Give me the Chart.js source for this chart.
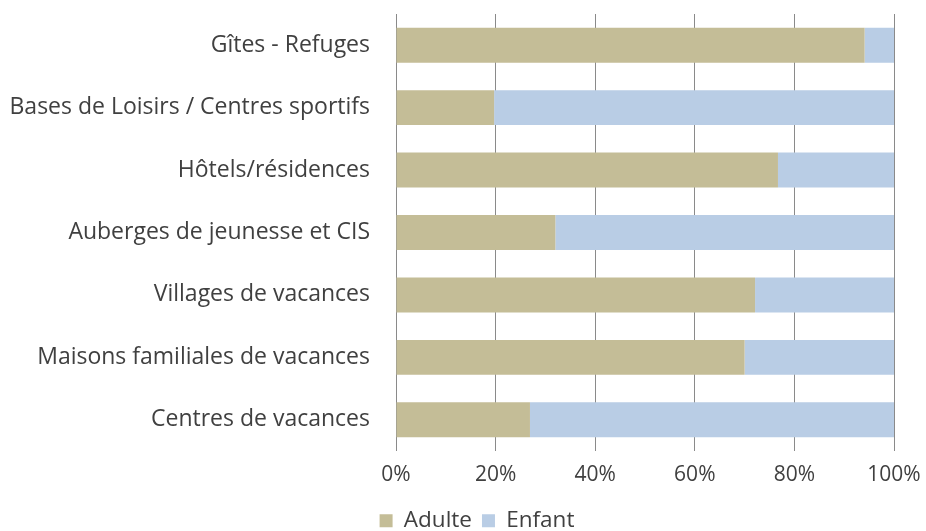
<!DOCTYPE html>
<html>
<head>
<meta charset="utf-8">
<script src="https://cdn.jsdelivr.net/npm/chart.js@4"></script>
<style>
  html, body { margin: 0; padding: 0; background: #fff; }
  #wrap { width: 926px; height: 531px; }
</style>
</head>
<body>
<div id="wrap"><canvas id="typeChart" width="926" height="531"></canvas></div>
<script>
const categories = [
    'Gîtes - Refuges',
    'Bases de Loisirs / Centres sportifs',
    'Hôtels/résidences',
    'Auberges de jeunesse et CIS',
    'Villages de vacances',
    'Maisons familiales de vacances',
    'Centres de vacances'
];
const adulteValues = [94.1, 19.7, 76.7, 32.0, 72.1, 70.0, 26.9];
const enfantValues = [5.9, 80.3, 23.3, 68.0, 27.9, 30.0, 73.1];
const tickValues = [0, 20, 40, 60, 80, 100];

const textColor = '#404040';
const fontFamily = "'Open Sans', 'DejaVu Sans', sans-serif";

// nudge the legend a bit to the right, it sits under the plot in the original
const legendShift = {
    id: 'legendShift',
    afterLayout(chart) {
        chart.legend.left += 30;
        chart.legend.right += 30;
    }
};

function createTypeChart() {
    const ctx = document.getElementById('typeChart');
    if (!ctx) return;

    new Chart(ctx, {
        type: 'bar',
        data: {
            labels: categories,
            datasets: [
                {
                    label: 'Adulte',
                    data: adulteValues,
                    backgroundColor: '#c4bd97',
                    barPercentage: 0.56,
                    categoryPercentage: 1
                },
                {
                    label: 'Enfant',
                    data: enfantValues,
                    backgroundColor: '#b9cde5',
                    barPercentage: 0.56,
                    categoryPercentage: 1
                }
            ]
        },
        plugins: [legendShift],
        options: {
            indexAxis: 'y',
            responsive: false,
            animation: false,
            layout: { padding: { top: 14, right: 32, bottom: -11, left: 0 } },
            plugins: {
                legend: {
                    position: 'bottom',
                    labels: {
                        color: textColor,
                        font: { family: fontFamily, size: 22.5 },
                        boxWidth: 13,
                        boxHeight: 13,
                        padding: 10
                    }
                },
                tooltip: { enabled: false }
            },
            scales: {
                x: {
                    stacked: true,
                    min: 0,
                    max: 100,
                    afterBuildTicks: (axis) => {
                        axis.ticks = tickValues.map(v => ({ value: v }));
                    },
                    afterFit: (axis) => {
                        axis.height = 48.5;
                        axis.paddingLeft = 0;
                        axis.paddingRight = 0;
                    },
                    grid: { color: '#8a8a8a', drawTicks: false },
                    border: { display: false },
                    ticks: {
                        color: textColor,
                        font: { family: fontFamily, size: 21 },
                        padding: 11,
                        maxRotation: 0,
                        callback: v => v + '%'
                    }
                },
                y: {
                    stacked: true,
                    afterFit: (axis) => {
                        axis.width = 396;
                        axis.paddingTop = 0;
                        axis.paddingBottom = 0;
                    },
                    grid: { display: false, drawTicks: false },
                    border: { display: false },
                    ticks: {
                        color: textColor,
                        font: { family: fontFamily, size: 23 },
                        padding: 26
                    }
                }
            }
        }
    });
}

document.addEventListener('DOMContentLoaded', () => {
    createTypeChart();
});
</script>
</body>
</html>
